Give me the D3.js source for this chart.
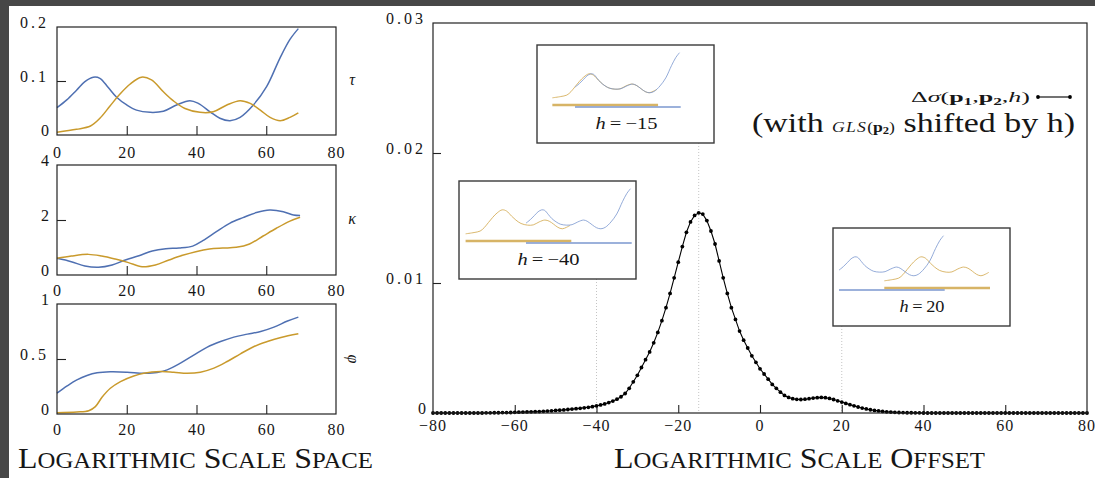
<!DOCTYPE html>
<html><head><meta charset="utf-8">
<script src="https://cdn.jsdelivr.net/npm/d3@7"></script>
<style>
body{margin:0;background:#fff;}
svg{display:block;}
text{font-family:"Liberation Serif","DejaVu Serif",serif;fill:#161616;}
</style>
</head><body>
<svg id="c" width="1095" height="478"></svg>
<script>
// ---------------- DATA ----------------
const spaceXTicks = [0, 20, 40, 60, 80];
const tauTicks = [0, 0.1, 0.2];
const kappaTicks = [0, 2, 4];
const phiTicks = [0, 0.5, 1];
const offsetXTicks = [-80, -60, -40, -20, 0, 20, 40, 60, 80];
const offsetYTicks = [0, 0.01, 0.02, 0.03];

const tauBlueX = [0, 2.8, 5.6, 8.0, 10.4, 12.3, 14.7, 17.1, 20.0, 22.8, 26.7, 30.5, 34.3, 38.1, 40.5, 43.9, 46.7, 49.6, 52.5, 56.3, 60.1, 63.9, 66.8, 69.2];
const tauBlueY = [0.0506, 0.065, 0.083, 0.0988, 0.107, 0.105, 0.088, 0.070, 0.0556, 0.046, 0.042, 0.044, 0.0556, 0.0636, 0.0586, 0.043, 0.031, 0.0265, 0.0327, 0.0556, 0.0895, 0.142, 0.177, 0.197];
const tauOrangeX = [0, 5.6, 9.6, 12.3, 15.2, 18.0, 20.9, 24.2, 27.1, 30.5, 33.3, 36.7, 41.0, 44.8, 48.7, 52.5, 55.4, 58.3, 61.1, 64.0, 66.8, 69.2];
const tauOrangeY = [0.005, 0.0105, 0.0167, 0.031, 0.0537, 0.0753, 0.094, 0.107, 0.102, 0.080, 0.0636, 0.049, 0.042, 0.043, 0.0556, 0.0636, 0.0586, 0.046, 0.0327, 0.0265, 0.0327, 0.041];

const kappaBlueX = [0, 4.1, 8.0, 11.9, 15.8, 19.6, 23.5, 27.3, 31.2, 35.0, 38.9, 41.8, 45.7, 49.5, 53.3, 57.2, 61.0, 64.9, 67.8, 69.7];
const kappaBlueY = [0.606, 0.485, 0.327, 0.28, 0.364, 0.545, 0.70, 0.873, 0.957, 0.98, 1.05, 1.25, 1.575, 1.88, 2.085, 2.27, 2.36, 2.30, 2.18, 2.16];
const kappaOrangeX = [0, 4.1, 9.0, 12.8, 16.7, 20.5, 24.4, 28.2, 32.1, 36.0, 39.8, 43.7, 47.5, 51.4, 55.2, 59.1, 62.9, 66.8, 69.7];
const kappaOrangeY = [0.606, 0.69, 0.75, 0.69, 0.58, 0.45, 0.30, 0.364, 0.545, 0.715, 0.848, 0.945, 0.98, 1.005, 1.127, 1.418, 1.70, 1.96, 2.10];

const phiBlueX = [0, 2.9, 5.7, 8.6, 11.5, 15.3, 20.1, 24.9, 28.7, 31.6, 35.4, 39.2, 43.1, 46.9, 50.7, 54.6, 58.4, 62.2, 66.1, 69.2];
const phiBlueY = [0.189, 0.255, 0.31, 0.35, 0.374, 0.383, 0.38, 0.371, 0.377, 0.401, 0.462, 0.535, 0.608, 0.659, 0.699, 0.726, 0.75, 0.79, 0.845, 0.881];
const phiOrangeX = [0, 5.7, 9.1, 11.0, 12.9, 15.3, 18.2, 22.0, 24.9, 29.7, 33.5, 37.3, 41.1, 45.0, 48.8, 52.6, 56.5, 60.3, 64.2, 69.2];
const phiOrangeY = [0.012, 0.018, 0.03, 0.067, 0.152, 0.234, 0.295, 0.346, 0.371, 0.386, 0.38, 0.371, 0.38, 0.417, 0.477, 0.547, 0.614, 0.659, 0.696, 0.729];

// offset h = -80 .. 80 (step 1)
const offsetH = d3.range(-80, 81);
const deltaSigma = [
 0,0,0,0,0,0,0,0,0,0,0,0,0,0.00001,0.00001,
 0.00002,0.00002,0.00003,0.00003,0.00004,
 0.00005,0.00006,0.00007,0.00008,0.00009,
 0.0001,0.00011,0.00013,0.00015,0.00017,
 0.0002,0.00022,0.00024,0.00027,0.0003,
 0.00033,0.00036,0.0004,0.00044,0.00049,
 0.00055,0.00062,0.0007,0.0008,0.00092,
 0.00106,0.00125,0.0015,0.0019,0.0024,
 0.0029,0.0035,0.0041,0.0047,0.0054,
 0.0062,0.0071,0.0081,0.0092,0.0104,
 0.0116,0.0128,0.0139,0.0147,0.0152,
 0.0154,0.0153,0.0148,0.0140,0.0130,
 0.0117,0.0104,0.0092,0.0081,0.0072,
 0.0063,0.0056,0.0050,0.0044,0.0039,
 0.0034,0.0030,0.0026,0.0022,0.0019,
 0.0016,0.00135,0.0012,0.0011,0.00105,
 0.00104,0.00106,0.0011,0.00115,0.00118,
 0.0012,0.00118,0.00112,0.00104,0.00094,
 0.00084,0.00074,0.00064,0.00055,0.00046,
 0.00038,0.00031,0.00025,0.0002,0.00016,
 0.00012,0.00009,0.00007,0.00005,0.00004,
 0.00003,0.00002,0.00002,0.00001,0.00001,
 0,0,0,0,0,0,0,0,0,0,0,0,0,0,0,0,0,0,0,0,0,
 0,0,0,0,0,0,0,0,0,0,0,0,0,0,0,0,0,0,0,0
];

const insetH = [-15, -40, 20];
const insetLabels = ["\u221215", "\u221240", "20"];
const insetOrangeShift = [-15, -40, 30];

// ---------------- LAYOUT / STYLE ----------------
const BLUE = "#4f70b2", ORANGE = "#c99a2c";
const IBLUE = "#7b97cf", IORANGE = "#d3ac55";
const INK = "#222";
const svg = d3.select("#c");

svg.append("rect").attr("width",1095).attr("height",478).attr("fill","#fff");
svg.append("rect").attr("x",0).attr("y",0).attr("width",1095).attr("height",6).attr("fill","#474747");
svg.append("rect").attr("x",0).attr("y",0).attr("width",9).attr("height",478).attr("fill","#474747");

function fmt(v){ return v < 0 ? "\u2212" + Math.abs(v) : String(v); }

// ---------------- LEFT PANELS ----------------
const lx = d3.scaleLinear().domain([0,80]).range([57,336]);
const panels = [
  {top:27, bottom:135, ticks:tauTicks, sym:"\u03C4", xlabY:158, rot:0,
   series:[[tauBlueX,tauBlueY,BLUE],[tauOrangeX,tauOrangeY,ORANGE]]},
  {top:165, bottom:275, ticks:kappaTicks, sym:"\u03BA", xlabY:296, rot:0,
   series:[[kappaBlueX,kappaBlueY,BLUE],[kappaOrangeX,kappaOrangeY,ORANGE]]},
  {top:304, bottom:414, ticks:phiTicks, sym:"\u03C6", xlabY:435, rot:90,
   series:[[phiBlueX,phiBlueY,BLUE],[phiOrangeX,phiOrangeY,ORANGE]]}
];

panels.forEach(p => {
  const y = d3.scaleLinear().domain([p.ticks[0], p.ticks[p.ticks.length-1]]).range([p.bottom, p.top]);
  const g = svg.append("g");
  p.series.forEach(([xs, ys, col]) => {
    const pts = xs.map((x,i)=>[x, ys[i]]);
    g.append("path").datum(pts)
      .attr("d", d3.line().x(d=>lx(d[0])).y(d=>y(d[1])).curve(d3.curveCatmullRom.alpha(0.5)))
      .attr("fill","none").attr("stroke",col).attr("stroke-width",1.5);
  });
  g.append("rect").attr("x",lx(0)).attr("y",p.top).attr("width",lx(80)-lx(0)).attr("height",p.bottom-p.top)
    .attr("fill","none").attr("stroke",INK).attr("stroke-width",1.2);
  const ax = g.append("g").attr("transform",`translate(0,${p.bottom})`)
    .call(d3.axisBottom(lx).tickValues(spaceXTicks.slice(1,-1)).tickSize(-9).tickFormat(""));
  ax.select(".domain").remove();
  ax.selectAll("line").attr("stroke",INK).attr("stroke-width",1.1);
  const ay = g.append("g").attr("transform",`translate(${lx(0)},0)`)
    .call(d3.axisLeft(y).tickValues(p.ticks.slice(1,-1)).tickSize(-9).tickFormat(""));
  ay.select(".domain").remove();
  ay.selectAll("line").attr("stroke",INK).attr("stroke-width",1.1);
  g.selectAll(".xl").data(spaceXTicks).enter().append("text")
    .attr("x", d=>lx(d)+0.5).attr("y", p.xlabY).attr("text-anchor","middle")
    .attr("font-size",16).attr("letter-spacing",1).text(fmt);
  g.selectAll(".yl").data(p.ticks).enter().append("text")
    .attr("x", 49).attr("y", d=>y(d)+1).attr("text-anchor","end")
    .attr("font-size",16).attr("letter-spacing", d=> String(d).includes(".")?3:0).text(fmt);
  const sx = 352, sy = y(p.ticks[1]);
  g.append("text").attr("x",sx).attr("y",sy+4).attr("text-anchor","middle")
    .attr("font-size",16).attr("font-style","italic")
    .attr("transform", p.rot ? `rotate(${p.rot},${sx},${sy})` : null)
    .text(p.sym);
});

function smallCapsTitle(text, x, y, len, big, small){
  const t = svg.append("text").attr("x",x).attr("y",y)
    .attr("textLength",len).attr("lengthAdjust","spacingAndGlyphs");
  text.split(" ").forEach((w,i) => {
    t.append("tspan").attr("font-size",big).text((i?" ":"") + w[0]);
    t.append("tspan").attr("font-size",small).text(w.slice(1).toUpperCase());
  });
}
smallCapsTitle("Logarithmic Scale Space", 18, 468, 355, 29, 22.5);
smallCapsTitle("Logarithmic Scale Offset", 614, 468, 371, 29, 22.5);

// ---------------- MAIN PLOT ----------------
const mx = d3.scaleLinear().domain([-80,80]).range([433,1087]);
const my = d3.scaleLinear().domain([0,0.03]).range([413,23]);
const mg = svg.append("g");

const insetLayout = [
  {left:537, top:45, zeroX:38},
  {left:459, top:181, zeroX:67},
  {left:833, top:228, zeroX:6}
];
const IW = 177, IH = 98, IBASE = 54, IXS = 1.51, IYS = 235;

insetH.forEach((h,i) => {
  mg.append("line").attr("x1",mx(h)).attr("x2",mx(h))
    .attr("y1",insetLayout[i].top+IH).attr("y2",my(0))
    .attr("stroke","#b5b5b5").attr("stroke-width",0.8).attr("stroke-dasharray","1 2");
});

const mxa = mg.append("g").attr("transform",`translate(0,${my(0)})`)
  .call(d3.axisBottom(mx).tickValues(offsetXTicks.slice(1,-1)).tickSize(-8).tickFormat(""));
mxa.select(".domain").remove();
mxa.selectAll("line").attr("stroke",INK).attr("stroke-width",1.1);
const mya = mg.append("g").attr("transform",`translate(${mx(-80)},0)`)
  .call(d3.axisLeft(my).tickValues(offsetYTicks.slice(1,-1)).tickSize(-8).tickFormat(""));
mya.select(".domain").remove();
mya.selectAll("line").attr("stroke",INK).attr("stroke-width",1.1);

const pts = offsetH.map((h,i)=>[h, deltaSigma[i]]);
mg.append("path").datum(pts)
  .attr("d", d3.line().x(d=>mx(d[0])).y(d=>my(d[1])))
  .attr("fill","none").attr("stroke","#000").attr("stroke-width",1.1);
mg.selectAll(".pt").data(pts).enter().append("circle")
  .attr("cx",d=>mx(d[0])).attr("cy",d=>my(d[1])).attr("r",1.9).attr("fill","#000");

mg.append("rect").attr("x",mx(-80)).attr("y",my(0.03)).attr("width",mx(80)-mx(-80)).attr("height",my(0)-my(0.03))
  .attr("fill","none").attr("stroke",INK).attr("stroke-width",1.2);

mg.selectAll(".mxl").data(offsetXTicks).enter().append("text")
  .attr("x",d=>mx(d)).attr("y",431).attr("text-anchor","middle")
  .attr("font-size",16).attr("letter-spacing",1).text(fmt);
mg.selectAll(".myl").data(offsetYTicks).enter().append("text")
  .attr("x",426).attr("y",d=>my(d)+1).attr("text-anchor","end")
  .attr("font-size",16).attr("letter-spacing",d=>d?3:0).text(fmt);

const tauB = tauBlueX.map((x,i)=>[x,tauBlueY[i]]);
const tauO = tauOrangeX.map((x,i)=>[x,tauOrangeY[i]]);
insetH.forEach((h,i) => {
  const L = insetLayout[i];
  const g = svg.append("g");
  g.append("rect").attr("x",L.left).attr("y",L.top).attr("width",IW).attr("height",IH)
    .attr("fill","#fff").attr("stroke","#3a3a3a").attr("stroke-width",1.4);
  const ix = d3.scaleLinear().domain([0,1]).range([L.left+L.zeroX, L.left+L.zeroX+IXS]);
  const base = L.top + IBASE;
  const iy = v => base - v*IYS;
  const sh = insetOrangeShift[i];
  const ln = d3.line().curve(d3.curveCatmullRom.alpha(0.5));
  g.append("path").attr("d", ln(tauO.map(d=>[ix(d[0]+sh), iy(d[1])])))
    .attr("fill","none").attr("stroke",IORANGE).attr("stroke-width",1).attr("stroke-opacity",0.85);
  g.append("path").attr("d", ln(tauB.map(d=>[ix(d[0]), iy(d[1])])))
    .attr("fill","none").attr("stroke",IBLUE).attr("stroke-width",1).attr("stroke-opacity",0.8);
  g.append("line").attr("x1",ix(sh)).attr("x2",ix(sh+70)).attr("y1",base+6).attr("y2",base+6)
    .attr("stroke",IORANGE).attr("stroke-width",2.6).attr("stroke-opacity",0.9);
  g.append("line").attr("x1",ix(0)).attr("x2",ix(70)).attr("y1",base+8).attr("y2",base+8)
    .attr("stroke",IBLUE).attr("stroke-width",1.5);
  const lab = "\u2009=\u2009" + insetLabels[i];
  const t = g.append("text").attr("x",L.left+IW/2 - (insetLabels[i].length===2?22:30)).attr("y",L.top+84)
    .attr("font-size",17).attr("textLength", insetLabels[i].length===2?45:62).attr("lengthAdjust","spacingAndGlyphs");
  t.append("tspan").attr("font-style","italic").text("h");
  t.append("tspan").text(lab);
});

// legend
const lg = svg.append("g");
const l1 = lg.append("text").attr("x",911).attr("y",102).attr("font-size",15)
  .attr("textLength",119).attr("lengthAdjust","spacingAndGlyphs");
l1.append("tspan").text("\u0394");
l1.append("tspan").attr("font-style","italic").text("\u03C3");
l1.append("tspan").text("(");
l1.append("tspan").attr("font-weight","bold").text("p");
l1.append("tspan").attr("font-size",10).attr("font-weight","bold").attr("dy",3).text("1");
l1.append("tspan").attr("dy",-3).text(",");
l1.append("tspan").attr("font-weight","bold").text("p");
l1.append("tspan").attr("font-size",10).attr("font-weight","bold").attr("dy",3).text("2");
l1.append("tspan").attr("dy",-3).text(",");
l1.append("tspan").attr("font-style","italic").text("h");
l1.append("tspan").text(")");
lg.append("line").attr("x1",1038).attr("x2",1070).attr("y1",97).attr("y2",97).attr("stroke","#000").attr("stroke-width",1.1);
lg.selectAll(".lp").data([1038,1070]).enter().append("circle").attr("cx",d=>d).attr("cy",97).attr("r",1.9).attr("fill","#000");

const l2 = lg.append("text").attr("x",752).attr("y",132).attr("font-size",27)
  .attr("textLength",323).attr("lengthAdjust","spacingAndGlyphs");
l2.append("tspan").text("(with ");
l2.append("tspan").attr("font-size",14).attr("font-style","italic").attr("letter-spacing",1).text("GLS");
l2.append("tspan").attr("font-size",14).text("(");
l2.append("tspan").attr("font-size",14).attr("font-weight","bold").text("p");
l2.append("tspan").attr("font-size",10).attr("font-weight","bold").attr("dy",2).text("2");
l2.append("tspan").attr("font-size",14).attr("dy",-2).text(")");
l2.append("tspan").text(" shifted by h)");
</script>
</body></html>
